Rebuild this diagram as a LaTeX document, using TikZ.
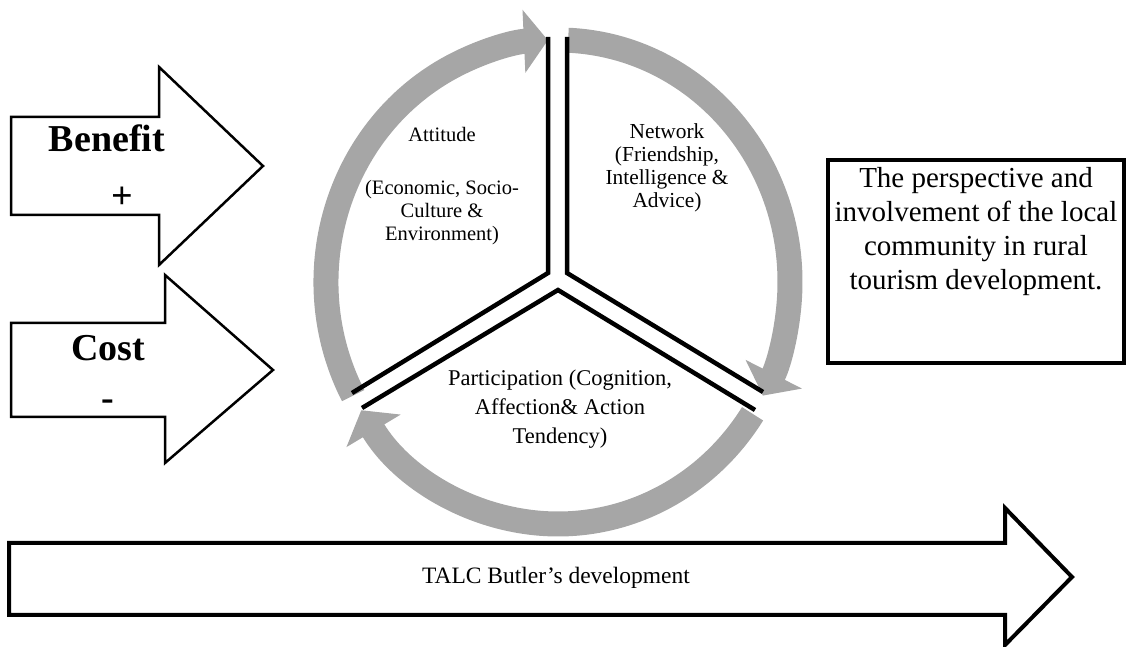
\documentclass[tikz,border=0pt]{standalone}
\usepackage{fontspec}
\setmainfont{Liberation Serif}
\usepackage{xcolor}
\usepackage{tikz}
\usetikzlibrary{arrows.meta}
\definecolor{ringgray}{RGB}{166,166,166}
\tikzset{
  ring/.style={ringgray, line width=25pt, -{Triangle[width=62pt,length=24pt]}},
  spoke/.style={line width=4.5pt, line join=miter},
  bigarrow/.style={draw, fill=white, line width=2.5pt, line join=miter},
  signtext/.style={font=\fontsize{38}{40}\selectfont\bfseries},
}

\begin{document}
\begin{tikzpicture}[x=1pt,y=1pt]
      \useasboundingbox (0,0) rectangle (1128,647);
      \coordinate (hub) at (558,365);
      \foreach \from/\to in {208/92.5, 87.5/-28, -33/-148} {
        \draw[ring] ([shift={(\from:232 and 242)}]hub)
          arc[start angle=\from, end angle=\to, x radius=232, y radius=242];
      }
      \draw[spoke] (548,610) -- (548,374) -- (352,254);
      \draw[spoke] (567,610) -- (567,374) -- (763,255);
      \draw[spoke] (362,239) -- (558,357) -- (755,237);
      \node[font=\fontsize{20.5}{23}\selectfont, align=center] (attitude) at (442,461)
        {Attitude\\[30pt](Economic, Socio-\\Culture \&\\Environment)};
      \node[font=\fontsize{21.4}{23}\selectfont, align=center] (network) at (667,479)
        {Network\\(Friendship,\\Intelligence \&\\Advice)};
      \node[font=\fontsize{22.5}{29}\selectfont, align=center] (participation) at (560,238)
        {Participation (Cognition,\\Affection\& Action\\Tendency)};
      \begin{scope}
        \draw[bigarrow] (11,530) -- (159,530) -- (159,580) -- (263,481) -- (159,382) -- (159,432) -- (11,432) -- cycle;
        \node[signtext] (benefit) at (107,509) {Benefit};
        \node[signtext] (benefitsign) at (122,449) {+};
      \end{scope}
      \begin{scope}
        \draw[bigarrow] (11,324) -- (165,324) -- (165,372) -- (273,277) -- (165,184) -- (165,230) -- (11,230) -- cycle;
        \node[signtext] (cost) at (108,299) {Cost};
        \node[signtext] (costsign) at (108,242) {-};
      \end{scope}
      \node[draw, line width=4pt, minimum width=296pt, minimum height=203pt, inner sep=0pt] (viewbox) at (976,385.5) {};
      \node[font=\fontsize{29}{34}\selectfont, align=center, anchor=north] (viewtext) at ([yshift=-6pt]viewbox.north)
        {The perspective and\\involvement of the local\\community in rural\\tourism development.};
      \draw[bigarrow, line width=4pt] (9,104) -- (1005,104) -- (1005,139) -- (1072,70) -- (1005,2) -- (1005,32) -- (9,32) -- cycle;
      \node[font=\fontsize{23.5}{26}\selectfont] (talc) at (556,69) {TALC Butler’s development};
    \end{tikzpicture}
\end{document}
